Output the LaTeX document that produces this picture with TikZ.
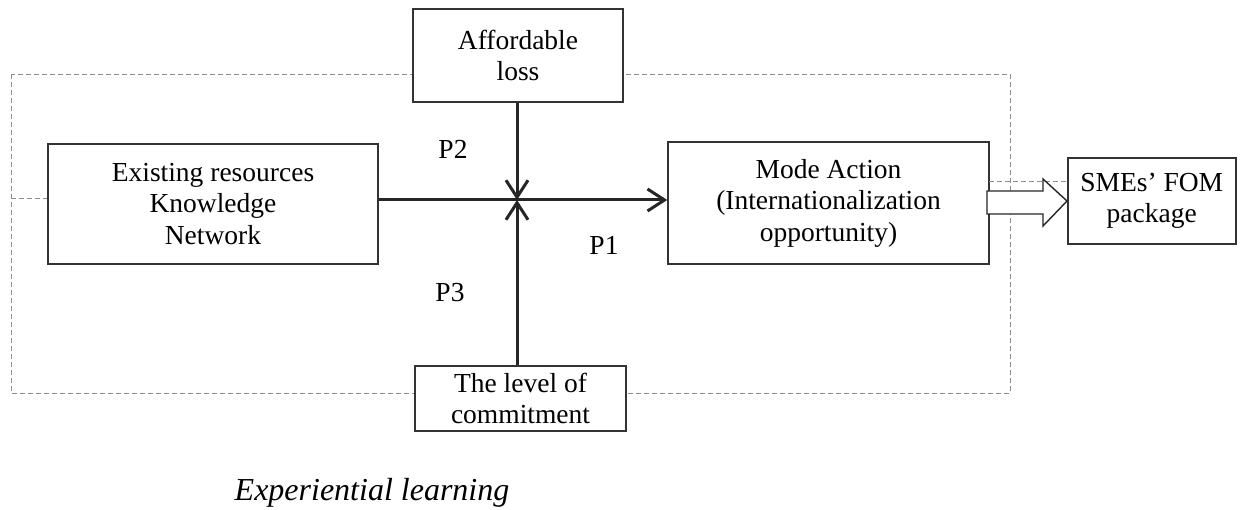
\documentclass[tikz,border=0pt]{standalone}
\usepackage{fontspec}
\setmainfont{Liberation Serif}
\usetikzlibrary{arrows.meta}
\begin{document}
\begin{tikzpicture}[x=1pt,y=-1pt,
  box/.style={draw=black!80,line width=1.5pt,fill=white,align=center,inner sep=0pt,
    font=\fontsize{27.5}{31.5}\selectfont},
  frame/.style={draw=black!45,line width=0.9pt,dash pattern=on 5pt off 3pt},
  conn/.style={draw=black!85,line width=3pt,-{Straight Barb[length=17pt,width=22pt,line width=3pt]}},
  lbl/.style={font=\fontsize{27.5}{31}\selectfont,inner sep=0pt}]
\useasboundingbox (0,0) rectangle (1246,510);
% dashed frame
\draw[frame] (11,74) rectangle (1010,393);
\coordinate (fl) at (11,198);
\coordinate (fr1) at (989,181);
% boxes
\node[box,minimum width=330pt,minimum height=120pt] (exist) at (213,204) {Existing resources\\Knowledge\\Network};
\node[box,minimum width=210pt,minimum height=93pt] (afford) at (518,55.5) {Affordable\\loss};
\node[box,minimum width=321pt,minimum height=122pt] (mode) at (828.5,203) {Mode Action\\(Internationalization\\opportunity)};
\node[box,minimum width=168pt,minimum height=86pt,anchor=west] (smes) at (1067,201) {SMEs' FOM\\package};
\node[box,minimum width=211pt,minimum height=65pt] (commit) at (520.5,398.5) {The level of\\commitment};
% dashed extensions
\draw[frame] (fl) -- (fl -| exist.west);
\draw[frame] (fr1) -- (fr1 -| smes.west);
% connectors
\coordinate (cross) at (517,200);
\draw[conn] (exist.east |- cross) -- (mode.west |- cross);
\draw[conn] (afford.south -| cross) -- (cross);
\draw[conn] (commit.north -| cross) -- (cross);
% hollow arrow
\draw[draw=black!85,line width=1.4pt,fill=white]
  (987,191) -- (1043,191) -- (1043,179) -- (smes.west) -- (1043,226) -- (1043,214) -- (987,214) -- cycle;
% labels
\node[lbl] (p2) at (453,149) {P2};
\node[lbl] (p1) at (604,245) {P1};
\node[lbl] (p3) at (450,293) {P3};
\node[lbl,font=\fontsize{32}{36}\selectfont\itshape] (exp) at (372,493) {Experiential learning};
\end{tikzpicture}
\end{document}
